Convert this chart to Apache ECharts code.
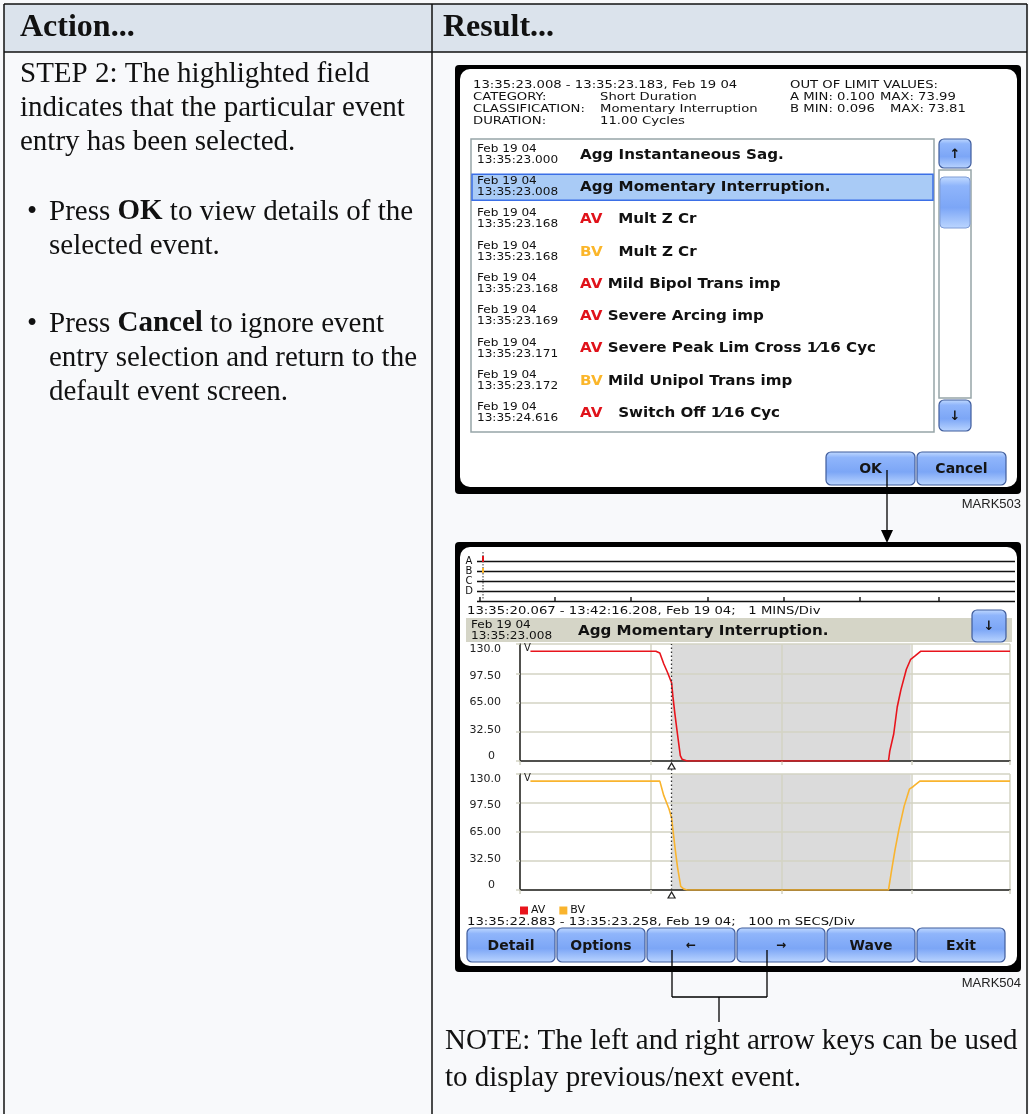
<!DOCTYPE html>
<html>
<head>
<meta charset="utf-8">
<script src="https://cdn.jsdelivr.net/npm/echarts@6/dist/echarts.min.js"></script>
<style>
html,body{margin:0;padding:0;background:#f8f9fb;}
#c{width:1029px;height:1114px;}
</style>
</head>
<body>
<div id="c"></div>
<script>
// ---------- DATA ----------
const tableHeaders = ['Action...', 'Result...'];
const stepLines = ['STEP 2: The highlighted field', 'indicates that the particular event', 'entry has been selected.'];
const okBullet = ['Press {b|OK} to view details of the', 'selected event.'];
const cancelBullet = ['Press {b|Cancel} to ignore event', 'entry selection and return to the', 'default event screen.'];
const noteLines = ['NOTE: The left and right arrow keys can be used', 'to display previous/next event.'];

const summaryLeft = ['13:35:23.008 - 13:35:23.183, Feb 19 04', 'CATEGORY:', 'CLASSIFICATION:', 'DURATION:'];
const summaryMid = ['', 'Short Duration', 'Momentary Interruption', '11.00 Cycles'];
const summaryRight = ['OUT OF LIMIT VALUES:', 'A MIN: 0.100', 'B MIN: 0.096', ''];
const summaryMax = ['', 'MAX: 73.99', 'MAX: 73.81', ''];

const eventDates = ['Feb 19 04','Feb 19 04','Feb 19 04','Feb 19 04','Feb 19 04','Feb 19 04','Feb 19 04','Feb 19 04','Feb 19 04'];
const eventTimes = ['13:35:23.000','13:35:23.008','13:35:23.168','13:35:23.168','13:35:23.168','13:35:23.169','13:35:23.171','13:35:23.172','13:35:24.616'];
const eventChannels = ['', '', 'AV', 'BV', 'AV', 'AV', 'AV', 'BV', 'AV'];
const eventDescs = ['Agg Instantaneous Sag.', 'Agg Momentary Interruption.', '  Mult Z Cr', '  Mult Z Cr', 'Mild Bipol Trans imp', 'Severe Arcing imp', 'Severe Peak Lim Cross 1\u204416 Cyc', 'Mild Unipol Trans imp', '  Switch Off 1\u204416 Cyc'];
const selectedEvent = 1;

const dialogButtons = ['OK', 'Cancel'];
const viewButtons = ['Detail', 'Options', '\u2190', '\u2192', 'Wave', 'Exit'];
const markLabels = ['MARK503', 'MARK504'];

const trendChannels = ['A', 'B', 'C', 'D'];
const trendRange = '13:35:20.067 - 13:42:16.208, Feb 19 04;   1 MINS/Div';
const waveRange = '13:35:22.883 - 13:35:23.258, Feb 19 04;   100 m SECS/Div';

// waveform: time in ms after 13:35:22.883, volts
const timeAV  = [8, 104, 107, 110, 113, 116, 117, 118.5, 120.5, 122.7, 124, 128, 282, 283, 286, 288.7, 291.5, 295.7, 299, 302.6, 306.8, 375];
const voltsAV = [122, 122, 120, 108, 98, 87, 72, 53, 30, 6, 2, 0, 0, 11, 30, 60, 79, 102, 113, 117, 122, 122];
const timeBV  = [8, 107, 110, 114, 116, 118.5, 120.5, 123, 125.5, 128, 282, 284.5, 287, 290, 294, 298, 301, 306, 375];
const voltsBV = [122, 122, 106, 91, 81, 49, 26, 4, 1, 0, 0, 23, 45, 68, 94, 113, 116, 122, 122];
const eventWindow = [116, 299];      // ms, shaded out-of-limit window
const cursorTime = 116;              // ms, dotted cursor
const yTickLabels = ['0', '32.50', '65.00', '97.50', '130.0'];
const seriesNames = ['AV', 'BV'];
const seriesColors = ['#e8141c', '#f9b42e'];

// ---------- HELPERS ----------
const SERIF = '"Liberation Serif","Times New Roman",serif';
const UI = '"DejaVu Sans",sans-serif';
const G = [];
function T(x, y, text, font, fill, align, extra, sx) {
  const st = Object.assign({text: text, font: font, fill: fill || '#111',
    align: align || 'left', textAlign: align || 'left', verticalAlign: 'middle', textVerticalAlign: 'middle'}, extra || {});
  G.push({type: 'text', x: x, y: y, scaleX: sx || 1, z: 20, silent: true, style: st});
}
function R(x, y, w, h, fill, stroke, lw, r, z) {
  G.push({type: 'rect', z: z === undefined ? 2 : z, silent: true, shape: {x: x, y: y, width: w, height: h, r: r || 0},
    style: {fill: fill || 'none', stroke: stroke || null, lineWidth: lw || 0}});
}
function L(x1, y1, x2, y2, stroke, lw, dash, z) {
  G.push({type: 'line', z: z === undefined ? 15 : z, silent: true, shape: {x1: x1, y1: y1, x2: x2, y2: y2},
    style: {stroke: stroke || '#000', lineWidth: lw || 1, lineDash: dash || null}});
}
const btnFill = {type: 'linear', x: 0, y: 0, x2: 0, y2: 1, colorStops: [
  {offset: 0, color: '#c4dcff'}, {offset: 0.18, color: '#8fb5fb'}, {offset: 0.6, color: '#7ca6f6'}, {offset: 1, color: '#bcd6ff'}]};
function BTN(x, y, w, h, label, size) {
  R(x, y, w, h, btnFill, '#3f5c9c', 1.2, 5, 4);
  T(x + w / 2, y + h / 2 + 1, label, 'bold ' + (size || 14) + 'px ' + UI, '#151515', 'center');
}
const SX = 1.2;     // the device's bitmap font is wider than DejaVu

// ---------- PAGE / TABLE ----------
R(4, 4, 1023, 48, '#dbe3ec', null, 0, 0, 0);
L(4, 4, 1027, 4, '#111', 1.5, null, 3);
L(4, 52, 1027, 52, '#111', 1.5, null, 3);
L(4, 4, 4, 1114, '#111', 1.5, null, 3);
L(432, 4, 432, 1114, '#111', 1.5, null, 3);
L(1027, 4, 1027, 1114, '#111', 1.5, null, 3);
T(20, 28, tableHeaders[0], 'bold 32px ' + SERIF, '#111');
T(443, 28, tableHeaders[1], 'bold 32px ' + SERIF, '#111');
const bodyFont = '29px ' + SERIF;
const richB = {b: {font: 'bold 29px ' + SERIF, fill: '#111'}};
stepLines.forEach((s, i) => T(20, 74 + i * 34, s, bodyFont, '#111'));
T(27, 212, '\u2022', bodyFont, '#111');
okBullet.forEach((s, i) => T(49, 212 + i * 34, s, bodyFont, '#111', 'left', {rich: richB}));
T(27, 324, '\u2022', bodyFont, '#111');
cancelBullet.forEach((s, i) => T(49, 324 + i * 34, s, bodyFont, '#111', 'left', {rich: richB}));
noteLines.forEach((s, i) => T(445, 1041 + i * 37, s, bodyFont, '#111'));

// ---------- SCREEN 1 : event list ----------
R(455, 65, 566, 429, '#000', null, 0, 4, 0);
R(460, 69, 557, 418, '#fff', null, 0, 10, 1);
const small = '11px ' + UI;
summaryLeft.forEach((s, i) => T(473, 85 + i * 12, s, small, '#111', 'left', null, SX));
summaryMid.forEach((s, i) => s && T(600, 85 + i * 12, s, small, '#111', 'left', null, SX));
summaryRight.forEach((s, i) => s && T(790, 85 + i * 12, s, small, '#111', 'left', null, SX));
summaryMax.forEach((s, i) => s && T(i === 1 ? 880 : 890, 85 + i * 12, s, small, '#111', 'left', null, SX));
R(471, 139, 463, 293, '#fff', '#97a5a8', 1.5, 0, 2);
const rowH = 32.3;
eventDescs.forEach((d, i) => {
  const cy = 155 + i * rowH;
  if (i === selectedEvent) R(472, cy - 13, 461, 26, '#a9cbf6', '#3b6fe6', 1.5, 0, 3);
  T(477, cy - 6, eventDates[i], '10.5px ' + UI, '#111', 'left', null, 1.15);
  T(477, cy + 5, eventTimes[i], '10.5px ' + UI, '#111', 'left', null, 1.15);
  const ch = eventChannels[i];
  const txt = (ch ? '{' + ch + '|' + ch + '} ' : '') + d;
  T(580, cy, txt, 'bold 14px ' + UI, '#111', 'left', {rich: {
    AV: {font: 'bold 14px ' + UI, fill: '#e0121a'}, BV: {font: 'bold 14px ' + UI, fill: '#fbb62a'}}}, 1.08);
});
// scrollbar
BTN(939, 139, 32, 29, '\u2191', 13);
R(939, 170, 32, 228, '#fff', '#97a5a8', 1.5, 0, 2);
R(940, 177, 30, 51, btnFill, '#7f9cd6', 1, 4, 4);
BTN(939, 400, 32, 31, '\u2193', 13);
BTN(826, 452, 89, 33, dialogButtons[0]);
BTN(917, 452, 89, 33, dialogButtons[1]);
// arrow
L(887, 470, 887, 531, '#000', 1.3, null, 25);
G.push({type: 'polygon', z: 25, silent: true, shape: {points: [[881, 530], [893, 530], [887, 543]]}, style: {fill: '#000'}});
T(1021, 504, markLabels[0], '13px "Liberation Sans",Arial,sans-serif', '#222', 'right');

// ---------- SCREEN 2 : event detail ----------
R(455, 542, 566, 430, '#000', null, 0, 4, 0);
R(460, 547, 557, 419, '#fff', null, 0, 10, 1);
trendChannels.forEach((c, i) => {
  const y = 561.5 + i * 10;
  T(469, y, c, '10px ' + UI, '#111', 'center');
  L(477, y, 1015, y, '#111', 1.6, null, 10);
});
L(483, 552, 483, 600, '#333', 1, [1.5, 1.5], 11);
L(483, 556, 483, 562, '#e0121a', 2, null, 12);
L(483, 568, 483, 573, '#fbb62a', 2, null, 12);
L(477, 601.5, 1015, 601.5, '#111', 1.6, null, 10);
[480, 555, 631, 708, 784, 860, 939].forEach(x => L(x, 597, x, 602, '#111', 1.4, null, 10));
T(467, 611, trendRange, small, '#111', 'left', null, SX);
R(466, 618, 546, 24, '#d5d5c7', null, 0, 0, 2);
T(471, 625, 'Feb 19 04', '10.5px ' + UI, '#111', 'left', null, 1.15);
T(471, 636, '13:35:23.008', '10.5px ' + UI, '#111', 'left', null, 1.15);
T(578, 631, eventDescs[selectedEvent], 'bold 14px ' + UI, '#111', 'left', null, 1.08);
BTN(972, 610, 34, 32, '\u2193', 13);
T(524, 648, 'V', '10px ' + UI, '#222');
T(524, 778, 'V', '10px ' + UI, '#222');
T(467, 922, waveRange, small, '#111', 'left', null, SX);
viewButtons.forEach((b, i) => BTN(467 + i * 90, 928, 88, 34, b, b.length === 1 ? 12 : 14));
// bracket under arrow buttons
L(672, 950, 672, 997, '#000', 1.3, null, 25);
L(767, 950, 767, 997, '#000', 1.3, null, 25);
L(672, 997, 767, 997, '#000', 1.3, null, 25);
L(719, 997, 719, 1022, '#000', 1.3, null, 25);
T(1021, 983, markLabels[1], '13px "Liberation Sans",Arial,sans-serif', '#222', 'right');

// ---------- CHARTS ----------
const gridLine = '#d3d3c3';
const lblBase = {fontFamily: 'DejaVu Sans', fontSize: 11, color: '#222'};
const lblRich = {
  l0: Object.assign({padding: [0, 6, 9, 0]}, lblBase),
  l1: Object.assign({padding: [0, 0, 4, 0]}, lblBase),
  l2: Object.assign({}, lblBase),
  l3: Object.assign({padding: [5, 0, 0, 0]}, lblBase),
  l4: Object.assign({padding: [11, 0, 0, 0]}, lblBase)
};
function xAx(i) {
  return {type: 'value', gridIndex: i, min: 0, max: 375, interval: 100, z: 10,
    axisLine: {show: true, onZero: false, lineStyle: {color: '#222', width: 1.5}},
    axisTick: {show: true, length: 4, lineStyle: {color: gridLine, width: 1.5}},
    axisLabel: {show: false},
    splitLine: {show: true, lineStyle: {color: gridLine, width: 1.5}}};
}
function yAx(i) {
  return {type: 'value', gridIndex: i, min: 0, max: 130, interval: 32.5, z: 10,
    axisLine: {show: true, lineStyle: {color: '#222', width: 1.5}},
    axisTick: {show: true, length: 4, lineStyle: {color: gridLine, width: 1.5}},
    axisLabel: Object.assign({margin: 19, rich: lblRich,
      formatter: (v, idx) => '{l' + idx + '|' + yTickLabels[idx] + '}'}, lblBase),
    splitLine: {show: true, lineStyle: {color: gridLine, width: 1.5}}};
}
function ser(i, xs, ys) {
  return {name: seriesNames[i], type: 'line', xAxisIndex: i, yAxisIndex: i,
    data: xs.map((x, k) => [x, ys[k]]), showSymbol: false, symbol: 'none',
    lineStyle: {color: seriesColors[i], width: 1.6}, itemStyle: {color: seriesColors[i]},
    animation: false, z: 12,
    markArea: {silent: true, z: 9, itemStyle: {color: 'rgba(175,175,175,0.45)'},
      data: [[{xAxis: eventWindow[0]}, {xAxis: eventWindow[1]}]]},
    markLine: {silent: true, z: 13, symbol: 'none', label: {show: false},
      lineStyle: {color: '#333', type: [1.5, 2.5], width: 1.3}, data: [{xAxis: cursorTime}]},
    markPoint: {silent: true, z: 14, symbol: 'triangle', symbolSize: [7, 6], symbolOffset: [0, 5],
      itemStyle: {color: '#fff', borderColor: '#222', borderWidth: 1.2}, label: {show: false},
      data: [{coord: [cursorTime, 0]}]}};
}

const chart = echarts.init(document.getElementById('c'), null, {renderer: 'canvas'});
const option = {
  backgroundColor: '#f8f9fb',
  animation: false,
  grid: [
    {left: 520, top: 644, width: 490, height: 117, containLabel: false},
    {left: 520, top: 774, width: 490, height: 116, containLabel: false}
  ],
  xAxis: [xAx(0), xAx(1)],
  yAxis: [yAx(0), yAx(1)],
  legend: {left: 520, top: 905, padding: 0, itemWidth: 8, itemHeight: 8, itemGap: 14, icon: 'rect', z: 20,
    textStyle: {fontFamily: 'DejaVu Sans', fontSize: 11, color: '#111', padding: [0, 0, 0, -2]},
    data: seriesNames},
  series: [ser(0, timeAV, voltsAV), ser(1, timeBV, voltsBV)],
  graphic: {elements: G}
};
chart.setOption(option);
// dotted cursor continuing between the two panels
const cx = chart.convertToPixel({xAxisIndex: 0}, cursorTime);
const yb = chart.convertToPixel({yAxisIndex: 0}, 0);
const yt = chart.convertToPixel({yAxisIndex: 1}, 130);
G.push({type: 'line', z: 15, silent: true, shape: {x1: cx, y1: yb + 8, x2: cx, y2: yt},
  style: {stroke: '#333', lineWidth: 1.3, lineDash: [1.5, 2.5]}});
chart.setOption({graphic: {elements: G}});
</script>
</body>
</html>
